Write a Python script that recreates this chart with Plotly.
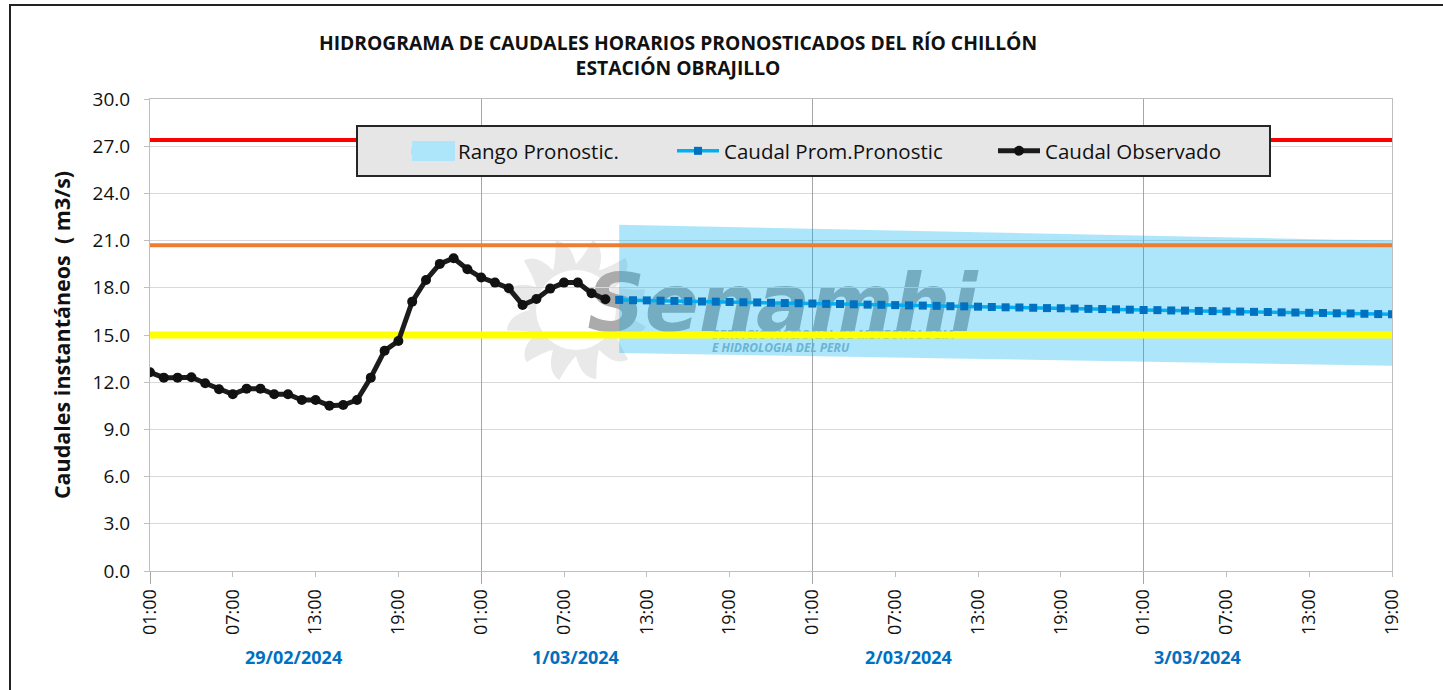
import math
import pandas as pd
import plotly.graph_objects as go

# ---------------- DATA ----------------
obs_start = "2024-02-29 01:00"
observado = [12.63, 12.29, 12.29, 12.31, 11.93, 11.55, 11.23, 11.59, 11.59, 11.23,
             11.23, 10.87, 10.87, 10.51, 10.55, 10.87, 12.29, 14.00, 14.62, 17.12,
             18.50, 19.52, 19.88, 19.18, 18.65, 18.33, 17.97, 16.91, 17.29, 17.95,
             18.33, 18.33, 17.65, 17.27]

fc_start = "2024-03-01 11:00"
prom_pronostico = [17.23, 17.21, 17.20, 17.18, 17.17, 17.15, 17.13, 17.12, 17.10, 17.08,
                   17.07, 17.05, 17.03, 17.02, 17.00, 16.98, 16.97, 16.95, 16.93, 16.92,
                   16.90, 16.88, 16.87, 16.85, 16.83, 16.82, 16.80, 16.78, 16.76, 16.75,
                   16.73, 16.71, 16.70, 16.68, 16.66, 16.65, 16.63, 16.61, 16.59, 16.58,
                   16.56, 16.55, 16.53, 16.52, 16.50, 16.49, 16.47, 16.46, 16.44, 16.43,
                   16.41, 16.40, 16.38, 16.37, 16.35, 16.33, 16.32]
rango_sup = [22.00, 21.98, 21.96, 21.95, 21.93, 21.91, 21.89, 21.87, 21.86, 21.84,
             21.82, 21.80, 21.78, 21.77, 21.75, 21.73, 21.71, 21.69, 21.68, 21.66,
             21.64, 21.62, 21.60, 21.59, 21.57, 21.55, 21.53, 21.51, 21.50, 21.48,
             21.46, 21.44, 21.42, 21.41, 21.39, 21.37, 21.35, 21.33, 21.32, 21.30,
             21.28, 21.26, 21.24, 21.23, 21.21, 21.19, 21.17, 21.15, 21.14, 21.12,
             21.10, 21.08, 21.06, 21.05, 21.03, 21.01, 21.00]
rango_inf = [13.85, 13.84, 13.82, 13.81, 13.79, 13.78, 13.76, 13.75, 13.74, 13.72,
             13.71, 13.69, 13.68, 13.66, 13.65, 13.64, 13.62, 13.61, 13.59, 13.58,
             13.56, 13.55, 13.54, 13.52, 13.51, 13.49, 13.48, 13.46, 13.45, 13.44,
             13.42, 13.41, 13.39, 13.38, 13.36, 13.35, 13.34, 13.32, 13.31, 13.29,
             13.28, 13.26, 13.25, 13.24, 13.22, 13.21, 13.19, 13.18, 13.16, 13.15,
             13.14, 13.12, 13.11, 13.09, 13.08, 13.06, 13.05]

umbrales = [27.4, 20.7, 15.0]
umbral_colores = ["#FF0000", "#ED7D31", "#FFFF00"]
umbral_anchos = [4, 4, 7]

x_inicio = "2024-02-29 01:00"
x_fin = "2024-03-03 19:00"
fechas = ["29/02/2024", "1/03/2024", "2/03/2024", "3/03/2024"]
titulo_1 = "HIDROGRAMA DE CAUDALES HORARIOS PRONOSTICADOS DEL RÍO CHILLÓN"
titulo_2 = "ESTACIÓN OBRAJILLO"
y_titulo = "Caudales instantáneos  ( m3/s)"

# ---------------- FIGURE ----------------
FONT = "'Open Sans', sans-serif"
BAND = "rgba(0,176,240,0.32)"
BAND_OPAQUE = "#ADE6FA"
t_obs = pd.date_range(obs_start, periods=len(observado), freq="h")
t_fc = pd.date_range(fc_start, periods=len(prom_pronostico), freq="h")

fig = go.Figure()

# forecast range band
fig.add_trace(go.Scatter(
    x=list(t_fc) + list(t_fc[::-1]),
    y=rango_sup + rango_inf[::-1],
    fill="toself", fillcolor=BAND,
    mode="lines", line=dict(width=0, color=BAND),
    name="Rango Pronostic.", showlegend=False, hoverinfo="skip"))
# legend entry for the band
fig.add_trace(go.Scatter(x=[None], y=[None], fill="toself", fillcolor=BAND_OPAQUE,
                         mode="lines", line=dict(width=0, color=BAND_OPAQUE),
                         name="Rango Pronostic.", legend="legend"))

# thresholds
for val, col, w in zip(umbrales, umbral_colores, umbral_anchos):
    fig.add_trace(go.Scatter(x=[x_inicio, x_fin], y=[val, val], mode="lines",
                             line=dict(color=col, width=w), showlegend=False,
                             hoverinfo="skip"))

fig.add_trace(go.Scatter(
    x=t_fc, y=prom_pronostico, mode="lines+markers",
    line=dict(color="#00B0F0", width=3.5),
    marker=dict(symbol="square", size=8, color="#0070C0"),
    name="Caudal Prom.Pronostic", legend="legend2"))

fig.add_trace(go.Scatter(
    x=t_obs, y=observado, mode="lines+markers",
    line=dict(color="#1c1c1c", width=5),
    marker=dict(symbol="circle", size=10, color="#111111"),
    name="Caudal Observado", legend="legend3"))

W, H = 1443, 690
L, R, T, B = 150, 51, 99, 119
pw, ph = W - L - R, H - T - B
def px(xp):
    return (xp - L) / pw
def py(yp):
    return (H - B - yp) / ph

leg_common = dict(orientation="h", bgcolor="rgba(0,0,0,0)", borderwidth=0,
                  font=dict(family=FONT, size=20.5, color="#111111"),
                  yanchor="middle", xanchor="left", itemwidth=42)

fig.update_layout(
    width=W, height=H,
    margin=dict(l=L, r=R, t=T, b=B),
    paper_bgcolor="white", plot_bgcolor="white",
    font=dict(family=FONT, color="#111111"),
    title=dict(text="<b>" + titulo_1 + "</b><br><b>" + titulo_2 + "</b>",
               xref="paper", x=px(678), xanchor="center",
               yref="container", y=1 - 49.5 / H, yanchor="middle",
               font=dict(family=FONT, size=19.3, color="#111111")),
    showlegend=True,
    legend=dict(x=px(406), y=py(151), **leg_common),
    legend2=dict(x=px(672), y=py(151), **leg_common),
    legend3=dict(x=px(993), y=py(151), **leg_common),
    xaxis=dict(type="date", range=[x_inicio, x_fin],
               tick0=x_inicio, dtick=6 * 3600000, tickformat="%H:%M",
               tickangle=-90, ticks="outside", ticklen=5, tickcolor="#bfbfbf",
               ticklabelstandoff=5,
               tickfont=dict(family=FONT, size=18, color="#111111"),
               showgrid=False, showline=True, linecolor="#bfbfbf", linewidth=1,
               mirror=True, zeroline=False),
    xaxis2=dict(type="date", range=[x_inicio, x_fin], overlaying="x",
                tick0=x_inicio, dtick=24 * 3600000, showticklabels=False,
                ticks="outside", ticklen=12, tickcolor="#a6a6a6",
                showgrid=True, gridcolor="#a6a6a6", gridwidth=1,
                showline=False, zeroline=False),
    yaxis=dict(range=[0, 30], dtick=3, tickformat=".1f",
               tickfont=dict(family=FONT, size=19, color="#111111"),
               showgrid=True, gridcolor="#d9d9d9", gridwidth=1,
               showline=True, linecolor="#bfbfbf", mirror=True,
               ticks="outside", ticklen=5, tickcolor="#bfbfbf",
               ticklabelstandoff=10, zeroline=False,
               title=dict(text="<b>" + y_titulo + "</b>",
                          font=dict(family=FONT, size=21.5, color="#111111"),
                          standoff=16)),
)

fig.add_trace(go.Scatter(x=[x_inicio, x_fin], y=[None, None], xaxis="x2",
                         showlegend=False, hoverinfo="skip"))

# date labels
for xp, f in zip([243, 575, 908, 1243], fechas):
    fig.add_annotation(text="<b>" + f + "</b>", xref="paper", yref="paper",
                       x=px(xp), y=py(657), yanchor="middle", showarrow=False,
                       font=dict(family=FONT, size=18, color="#0070C0"))

# ---- watermark (below traces) ----
cx, cy = px(576), py(310)
N, ro, ri = 12, 72, 46
step = 2 * math.pi / N
def pt(r, a):
    return f"{r * math.cos(a):.1f},{r * math.sin(a):.1f}"
path = "M" + pt(ri, 0)
for k in range(N):
    a0 = k * step
    path += " Q" + pt(ro * 0.95, a0 + 0.15 * step) + " " + pt(ro, a0 + 0.55 * step)
    path += " Q" + pt(ri * 1.15, a0 + 0.75 * step) + " " + pt(ri, a0 + step)
path += " Z"
fig.add_shape(type="path", path=path, xref="paper", yref="paper",
              xsizemode="pixel", ysizemode="pixel", xanchor=cx, yanchor=cy,
              fillcolor="#e9e9e9", line=dict(width=0), layer="below")
fig.add_shape(type="circle", xref="paper", yref="paper",
              xsizemode="pixel", ysizemode="pixel", xanchor=cx, yanchor=cy,
              x0=-40, x1=40, y0=-40, y1=40,
              fillcolor="white", line=dict(width=0), layer="below")
fig.add_shape(type="rect", xref="paper", yref="paper",
              x0=px(573), x1=px(992), y0=py(336), y1=py(258),
              fillcolor="rgba(0,0,0,0)", line=dict(width=0), layer="below",
              label=dict(text="Senamhi", textposition="middle center",
                         font=dict(family="DejaVu Sans", size=80, color="#ababab",
                                   weight="bold", style="italic")))
fig.add_shape(type="rect", xref="paper", yref="paper",
              x0=px(706), x1=px(990), y0=py(342), y1=py(328),
              fillcolor="rgba(0,0,0,0)", line=dict(width=0), layer="below",
              label=dict(text="SERVICIO NACIONAL DE METEOROLOGIA", textposition="middle left",
                         font=dict(family=FONT, size=13, color="#9fb5c3",
                                   weight="bold", style="italic")))
fig.add_shape(type="rect", xref="paper", yref="paper",
              x0=px(706), x1=px(900), y0=py(356), y1=py(341),
              fillcolor="rgba(0,0,0,0)", line=dict(width=0), layer="below",
              label=dict(text="E HIDROLOGIA DEL PERU", textposition="middle left",
                         font=dict(family=FONT, size=12, color="#9fb5c3",
                                   weight="bold", style="italic")))

# legend box + swatch
fig.add_shape(type="rect", xref="paper", yref="paper",
              x0=px(357), x1=px(1270), y0=py(176), y1=py(126),
              fillcolor="#e6e6e6", line=dict(color="#262626", width=2), layer="above")
fig.add_shape(type="rect", xref="paper", yref="paper",
              x0=px(412), x1=px(455), y0=py(161), y1=py(141),
              fillcolor=BAND_OPAQUE, line=dict(width=0), layer="above")
# outer frame
fig.add_shape(type="rect", xref="paper", yref="paper",
              x0=px(10), x1=px(1500), y0=py(720), y1=py(5),
              fillcolor="rgba(0,0,0,0)", line=dict(color="#222222", width=2))

fig.write_html("out.html", config={"displayModeBar": False},
               post_script="document.body.style.margin='0px';")
